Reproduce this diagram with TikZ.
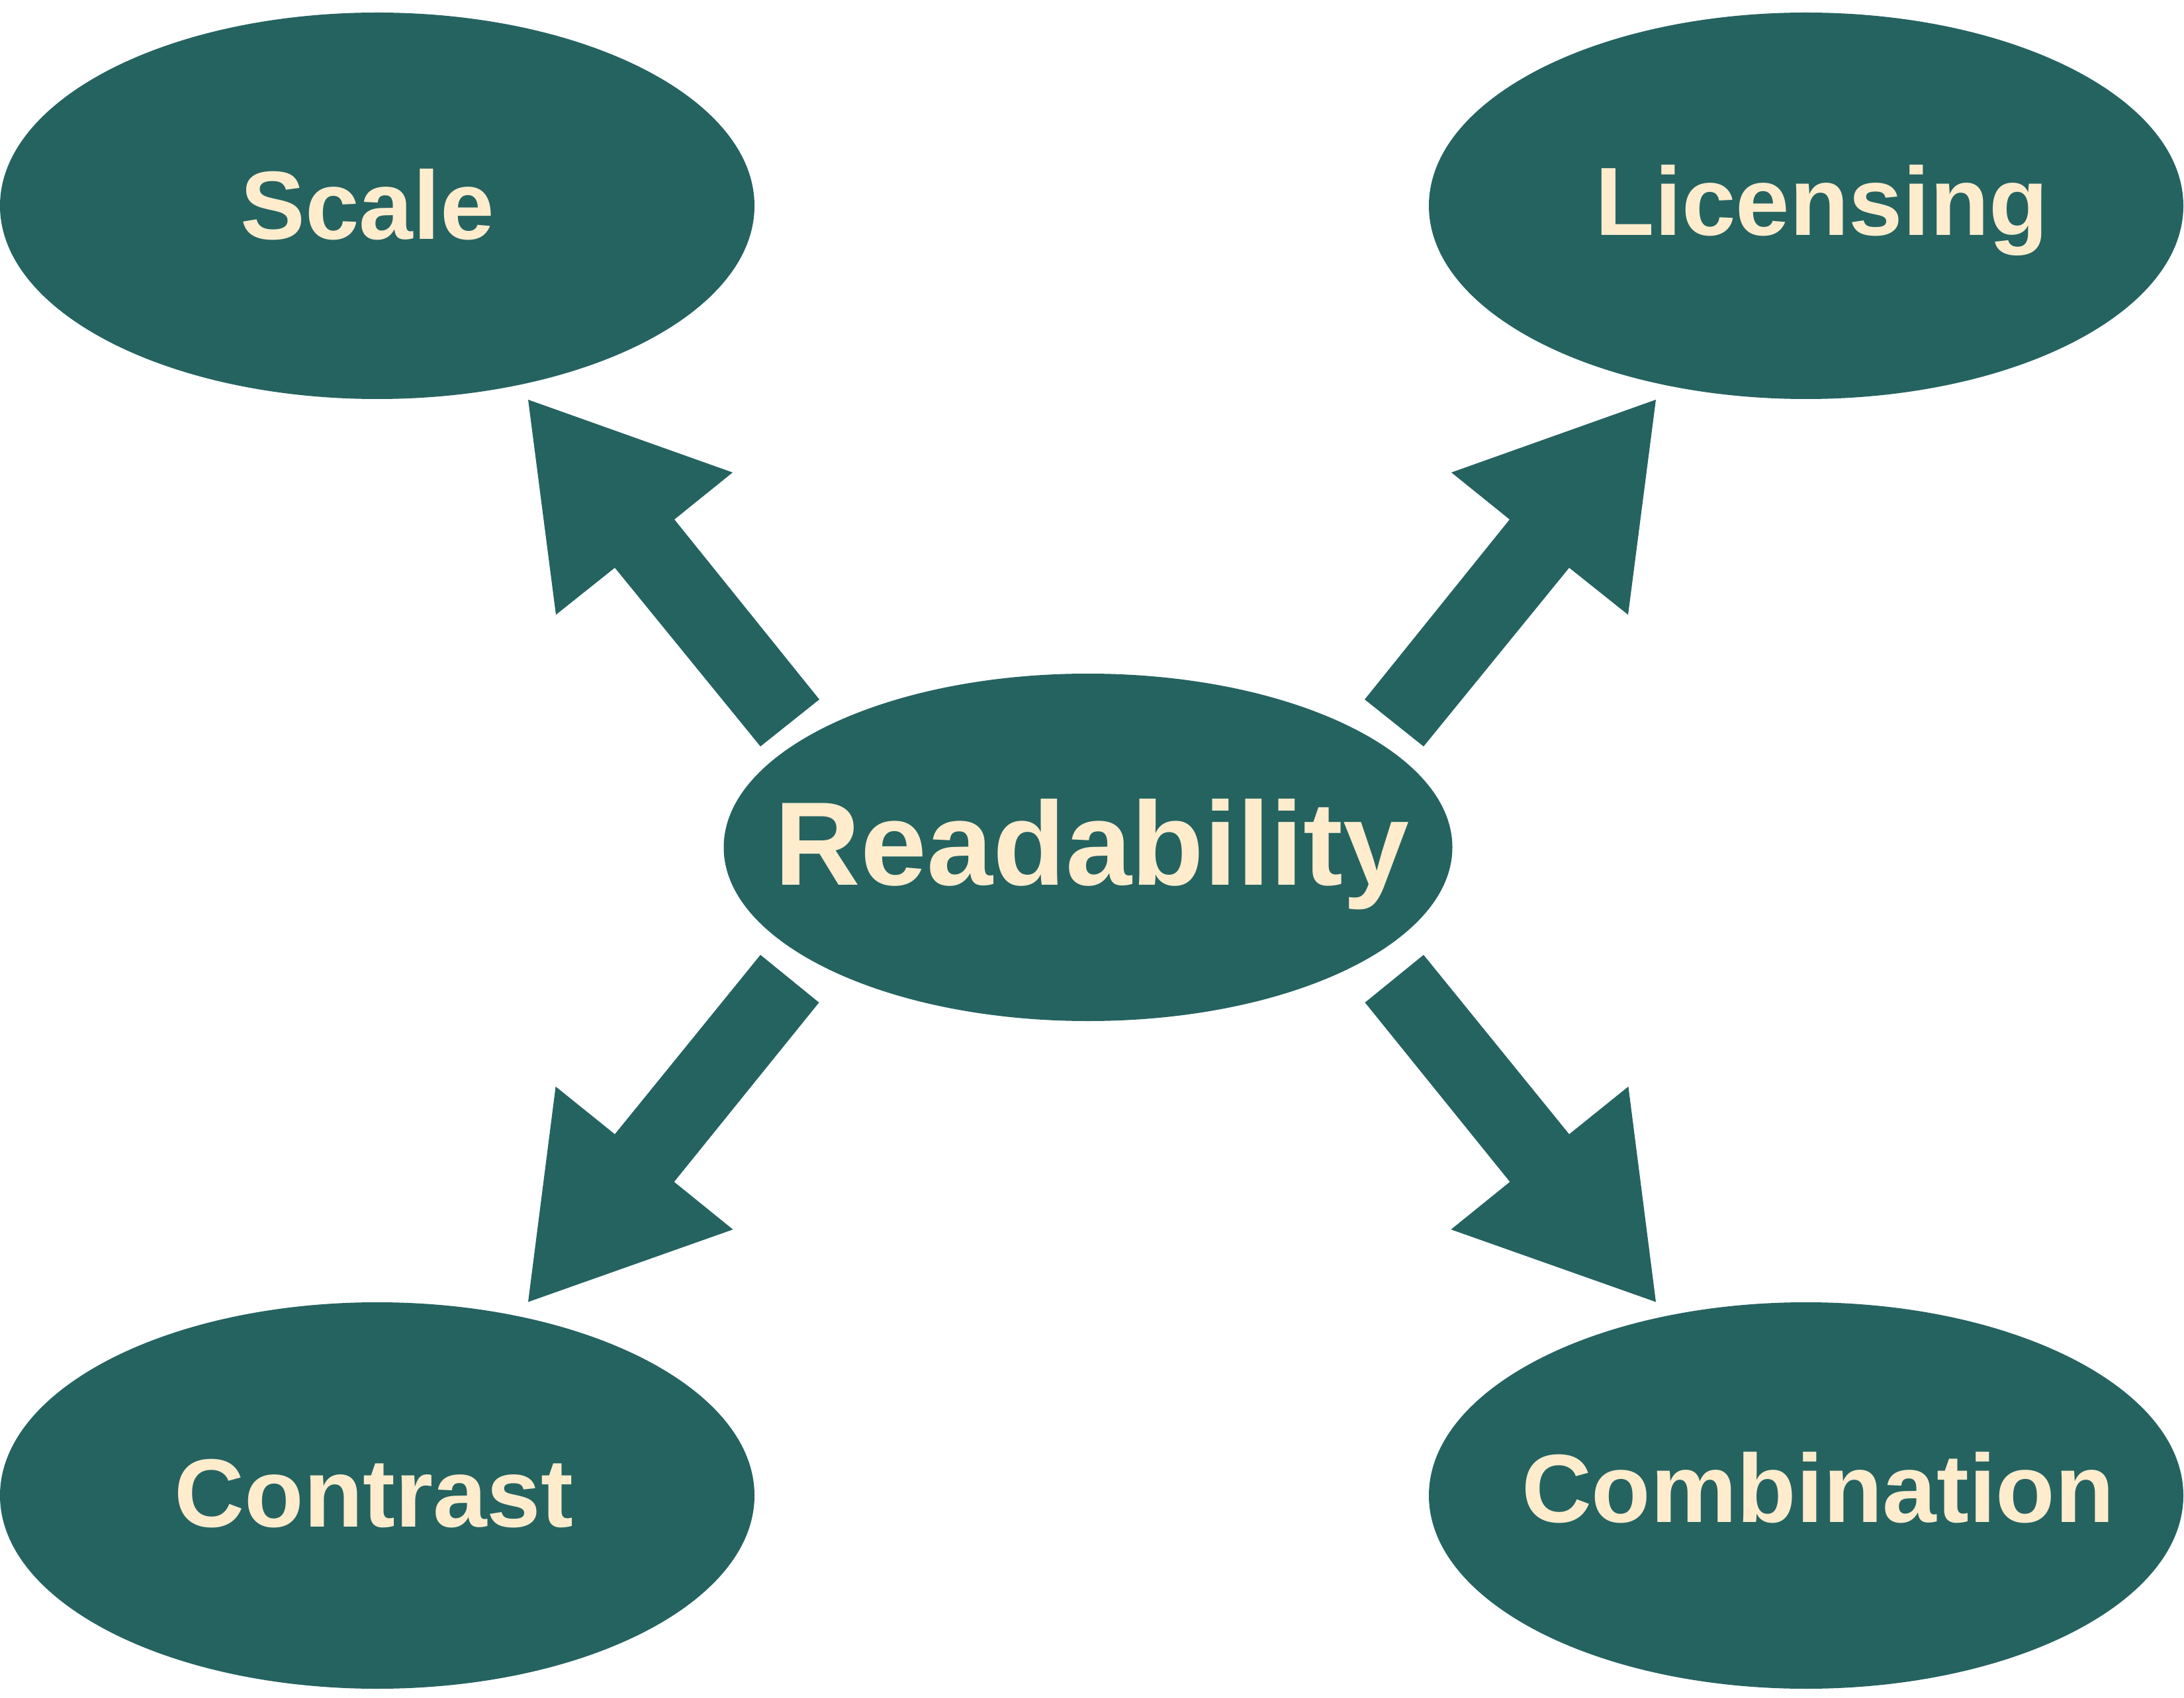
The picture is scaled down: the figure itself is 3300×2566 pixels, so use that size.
\documentclass[tikz,border=0pt]{standalone}
\usepackage{fontspec}
\setmainfont{Liberation Sans}
\usetikzlibrary{shapes.geometric}
\definecolor{teal}{RGB}{37,99,97}
\definecolor{cream}{RGB}{254,236,205}
\tikzset{
  bubble/.style={ellipse, fill=teal, draw=none, inner sep=0pt, minimum width=285pt, minimum height=146pt},
  hub/.style={ellipse, fill=teal, draw=none, inner sep=0pt, minimum width=275.25pt, minimum height=131.25pt},
  lbl/.style={anchor=base, inner sep=0pt, text=cream, font=\bfseries\fontsize{36.65pt}{44pt}\selectfont},
  hublbl/.style={anchor=base, inner sep=0pt, text=cream, font=\bfseries\fontsize{44.9pt}{54pt}\selectfont},
  blockarrow/.style={fill=teal, draw=none}
}
\begin{document}
\begin{tikzpicture}[x=0.25pt, y=-0.25pt]
\useasboundingbox (0,0) rectangle (3300,2566);
% ellipses
\node[bubble] (scale) at (570,311) {};
\node[bubble] (licensing) at (2729,311) {};
\node[bubble] (contrast) at (570,2260) {};
\node[bubble] (combination) at (2729,2260) {};
\node[hub] (readability) at (1644,1280.5) {};
% labels
\node[lbl] (scaleT) at (555,362) {Scale};
\node[lbl] (licensingT) at (2753,356) {Licensing};
\node[lbl] (contrastT) at (565,2307) {Contrast};
\node[lbl] (combinationT) at (2747,2300) {Combination};
\node[hublbl] (readabilityT) at (1650,1337.5) {Readability};
% block arrows
\fill[blockarrow] (798,604) -- (1107,714) -- (1019,785) -- (1238,1057) -- (1149,1128) -- (929,858) -- (840,929) -- cycle;
\fill[blockarrow] (2502,604) -- (2193,714) -- (2281,785) -- (2062,1057) -- (2151,1128) -- (2371,858) -- (2460,929) -- cycle;
\fill[blockarrow] (798,1967.5) -- (1107.5,1858) -- (1018.6,1786) -- (1237.5,1515) -- (1149,1443) -- (929,1714) -- (839.6,1642) -- cycle;
\fill[blockarrow] (2502,1967.5) -- (2192.5,1858) -- (2281.4,1786) -- (2062.5,1515) -- (2151,1443) -- (2371,1714) -- (2460.4,1642) -- cycle;
\end{tikzpicture}
\end{document}
